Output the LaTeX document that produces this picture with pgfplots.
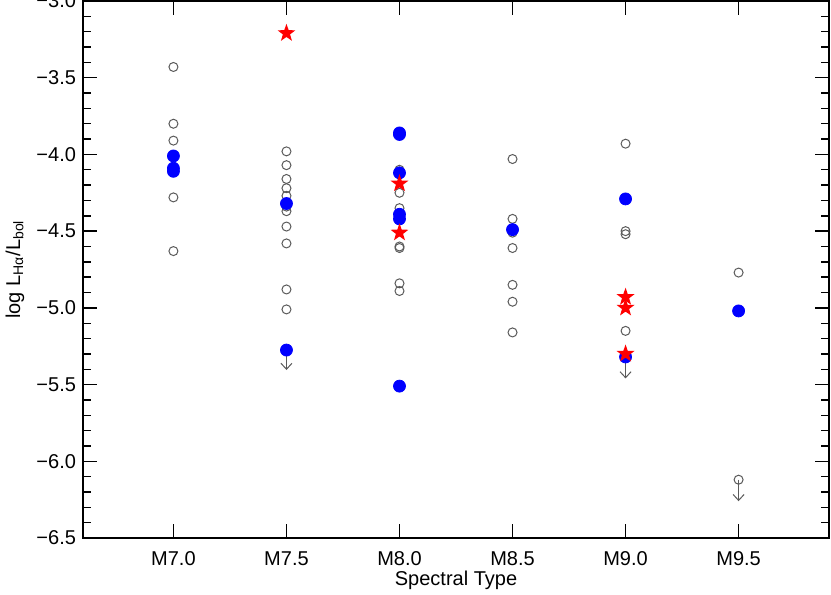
\documentclass[border=0pt]{standalone}
\usepackage{fontspec}
\setmainfont{Liberation Sans}
\usepackage{pgfplots}
\pgfplotsset{compat=1.18}
\usetikzlibrary{arrows.meta}

\pgfdeclareplotmark{fstar}{%
  \pgfpathmoveto{\pgfpointpolar{90}{\pgfplotmarksize}}%
  \pgfpathlineto{\pgfpointpolar{126}{0.4\pgfplotmarksize}}%
  \pgfpathlineto{\pgfpointpolar{162}{\pgfplotmarksize}}%
  \pgfpathlineto{\pgfpointpolar{198}{0.4\pgfplotmarksize}}%
  \pgfpathlineto{\pgfpointpolar{234}{\pgfplotmarksize}}%
  \pgfpathlineto{\pgfpointpolar{270}{0.4\pgfplotmarksize}}%
  \pgfpathlineto{\pgfpointpolar{306}{\pgfplotmarksize}}%
  \pgfpathlineto{\pgfpointpolar{342}{0.4\pgfplotmarksize}}%
  \pgfpathlineto{\pgfpointpolar{18}{\pgfplotmarksize}}%
  \pgfpathlineto{\pgfpointpolar{54}{0.4\pgfplotmarksize}}%
  \pgfpathclose
  \pgfusepathqfill
}

\definecolor{opengray}{RGB}{90,90,90}

\begin{document}
\begin{tikzpicture}
\begin{axis}[
  scale only axis, width=373pt, height=268.5pt,
  xmin=6.6, xmax=9.9, ymin=-6.5, ymax=-3.0,
  xtick={7,7.5,8,8.5,9,9.5},
  xticklabels={M7.0,M7.5,M8.0,M8.5,M9.0,M9.5},
  ytick={-6.5,-6.0,-5.5,-5.0,-4.5,-4.0,-3.5,-3.0},
  yticklabels={−6.5,−6.0,−5.5,−5.0,−4.5,−4.0,−3.5,\raisebox{-3pt}{−3.0}},
  minor y tick num=4,
  tick align=inside,
  axis line style={line width=0.8pt},
  every tick/.style={black, line width=0.7pt},
  major tick length=7pt, minor tick length=3.8pt,
  tick label style={font=\fontsize{10}{12}\selectfont},
  xticklabel style={yshift=-3.3pt},
  xlabel={Spectral Type},
  ylabel={log L\textsubscript{Hα}/L\textsubscript{bol}},
  label style={font=\fontsize{10}{12}\selectfont},
  every axis x label/.style={at={(axis description cs:0.5,-0.0782)}, anchor=center},
  every axis y label/.style={at={(axis description cs:-0.0912,0.5)}, anchor=center, rotate=90},
  clip=false,
]
% open circles
\addplot[only marks, mark=o, mark size=2.25pt, opengray, mark options={line width=0.5pt}] coordinates {
 (7.0,-3.43) (7.0,-3.80) (7.0,-3.91) (7.0,-4.28) (7.0,-4.63)
 (7.5,-3.98) (7.5,-4.07) (7.5,-4.16) (7.5,-4.22) (7.5,-4.27) (7.5,-4.34) (7.5,-4.37) (7.5,-4.47) (7.5,-4.58) (7.5,-4.88) (7.5,-5.01)
 (8.0,-4.10) (8.0,-4.25) (8.0,-4.35) (8.0,-4.60) (8.0,-4.61) (8.0,-4.84) (8.0,-4.89)
 (8.5,-4.03) (8.5,-4.42) (8.5,-4.51) (8.5,-4.61) (8.5,-4.85) (8.5,-4.96) (8.5,-5.16)
 (9.0,-3.93) (9.0,-4.50) (9.0,-4.52) (9.0,-5.15)
 (9.5,-4.77) (9.5,-6.12)
};
% filled blue circles
\addplot[only marks, mark=*, mark size=3pt, blue, mark options={draw=blue, fill=blue}] coordinates {
 (7.0,-4.01) (7.0,-4.09) (7.0,-4.11)
 (7.5,-4.32) (7.5,-5.275)
 (8.0,-3.86) (8.0,-3.87) (8.0,-4.12) (8.0,-4.39) (8.0,-4.42) (8.0,-5.51)
 (8.5,-4.49)
 (9.0,-4.29) (9.0,-5.32)
 (9.5,-5.02)
};
% red stars
\addplot[only marks, mark=fstar, mark size=4.7pt, red, mark options={fill=red}] coordinates {
 (7.5,-3.21)
 (8.0,-4.19) (8.0,-4.51)
 (9.0,-4.93) (9.0,-5.00) (9.0,-5.30)
};
% upper-limit arrows
\addplot[opengray, line width=0.5pt, -{Straight Barb[length=3pt,width=5.5pt]}] coordinates {(7.5,-5.275) (7.5,-5.405)};
\addplot[opengray, line width=0.5pt, -{Straight Barb[length=3pt,width=5.5pt]}] coordinates {(9.0,-5.32) (9.0,-5.46)};
\addplot[opengray, line width=0.5pt, -{Straight Barb[length=3pt,width=5.5pt]}] coordinates {(9.5,-6.12) (9.5,-6.26)};
\end{axis}
\pgfresetboundingbox
\path ([shift={(-41.5pt,-28pt)}]current axis.south west) rectangle ([shift={(1pt,0.5pt)}]current axis.north east);
\end{tikzpicture}
\end{document}
